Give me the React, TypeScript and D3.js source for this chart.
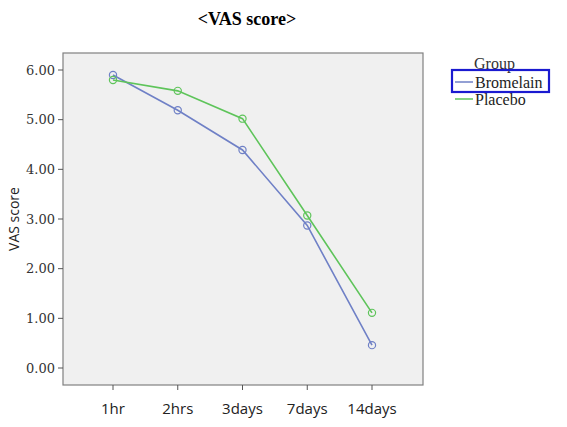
import React from 'react';
import * as d3 from 'd3';

const timePoints = ['1hr', '2hrs', '3days', '7days', '14days'];
const bromelain = [5.9, 5.19, 4.39, 2.87, 0.46];
const placebo = [5.8, 5.58, 5.02, 3.07, 1.11];
const yTicks = [0, 1, 2, 3, 4, 5, 6];

const frame = { left: 63, right: 423, top: 53, bottom: 385 };

const App: React.FC = () => {
  const x = d3.scalePoint<string>().domain(timePoints).range([113, 372]);
  const y = d3.scaleLinear().domain([0, 6]).range([368, 70]);

  const line = d3
    .line<number>()
    .x((_, i) => x(timePoints[i]) as number)
    .y((d) => y(d));

  const series = [
    { name: 'Bromelain', values: bromelain, color: '#6f80c6' },
    { name: 'Placebo', values: placebo, color: '#5ec45a' },
  ];

  return (
    <svg width={567} height={427} style={{ position: 'absolute', left: 0, top: 0 }}>
      <rect x={0} y={0} width={567} height={427} fill="#ffffff" />
      <text x={247} y={25} textAnchor="middle" fontFamily="Liberation Serif" fontWeight="bold" fontSize={18}>
        {'<VAS score>'}
      </text>

      <rect
        x={frame.left}
        y={frame.top}
        width={frame.right - frame.left}
        height={frame.bottom - frame.top}
        fill="#f0f0f0"
        stroke="#808080"
        strokeWidth={1.2}
      />

      {yTicks.map((t) => (
        <g key={t}>
          <line x1={frame.left - 5} x2={frame.left} y1={y(t)} y2={y(t)} stroke="#555" />
          <text
            x={frame.left - 8}
            y={y(t)}
            dy="0.35em"
            textAnchor="end"
            fontFamily="DejaVu Serif"
            fontSize={13}
            fill="#333"
          >
            {t.toFixed(2)}
          </text>
        </g>
      ))}

      {timePoints.map((t) => (
        <g key={t}>
          <line x1={x(t)} x2={x(t)} y1={frame.bottom} y2={frame.bottom + 5} stroke="#555" />
          <text
            x={x(t)}
            y={frame.bottom + 29}
            textAnchor="middle"
            fontFamily="Open Sans"
            fontSize={15}
            fill="#222"
          >
            {t}
          </text>
        </g>
      ))}

      <text
        transform={`translate(19, ${(frame.top + frame.bottom) / 2}) rotate(-90)`}
        textAnchor="middle"
        fontFamily="Open Sans"
        fontSize={14}
        fill="#222"
      >
        VAS score
      </text>

      {series.map((s) => (
        <g key={s.name}>
          <path d={line(s.values) ?? ''} fill="none" stroke={s.color} strokeWidth={1.6} />
          {s.values.map((v, i) => (
            <circle
              key={i}
              cx={x(timePoints[i])}
              cy={y(v)}
              r={3.6}
              fill="none"
              stroke={s.color}
              strokeWidth={1.2}
            />
          ))}
        </g>
      ))}

      <text x={474} y={69} fontFamily="Liberation Serif" fontSize={16} fill="#333">
        Group
      </text>
      {series.map((s, i) => (
        <g key={s.name}>
          <line x1={455} x2={473} y1={82 + i * 17} y2={82 + i * 17} stroke={s.color} strokeWidth={1.5} />
          <text x={475} y={88 + i * 17} fontFamily="Liberation Serif" fontSize={16} fill="#222">
            {s.name}
          </text>
        </g>
      ))}
      <rect x={452} y={70} width={97} height={22} fill="none" stroke="#1a1ad0" strokeWidth={2.2} />
    </svg>
  );
};

export default App;
